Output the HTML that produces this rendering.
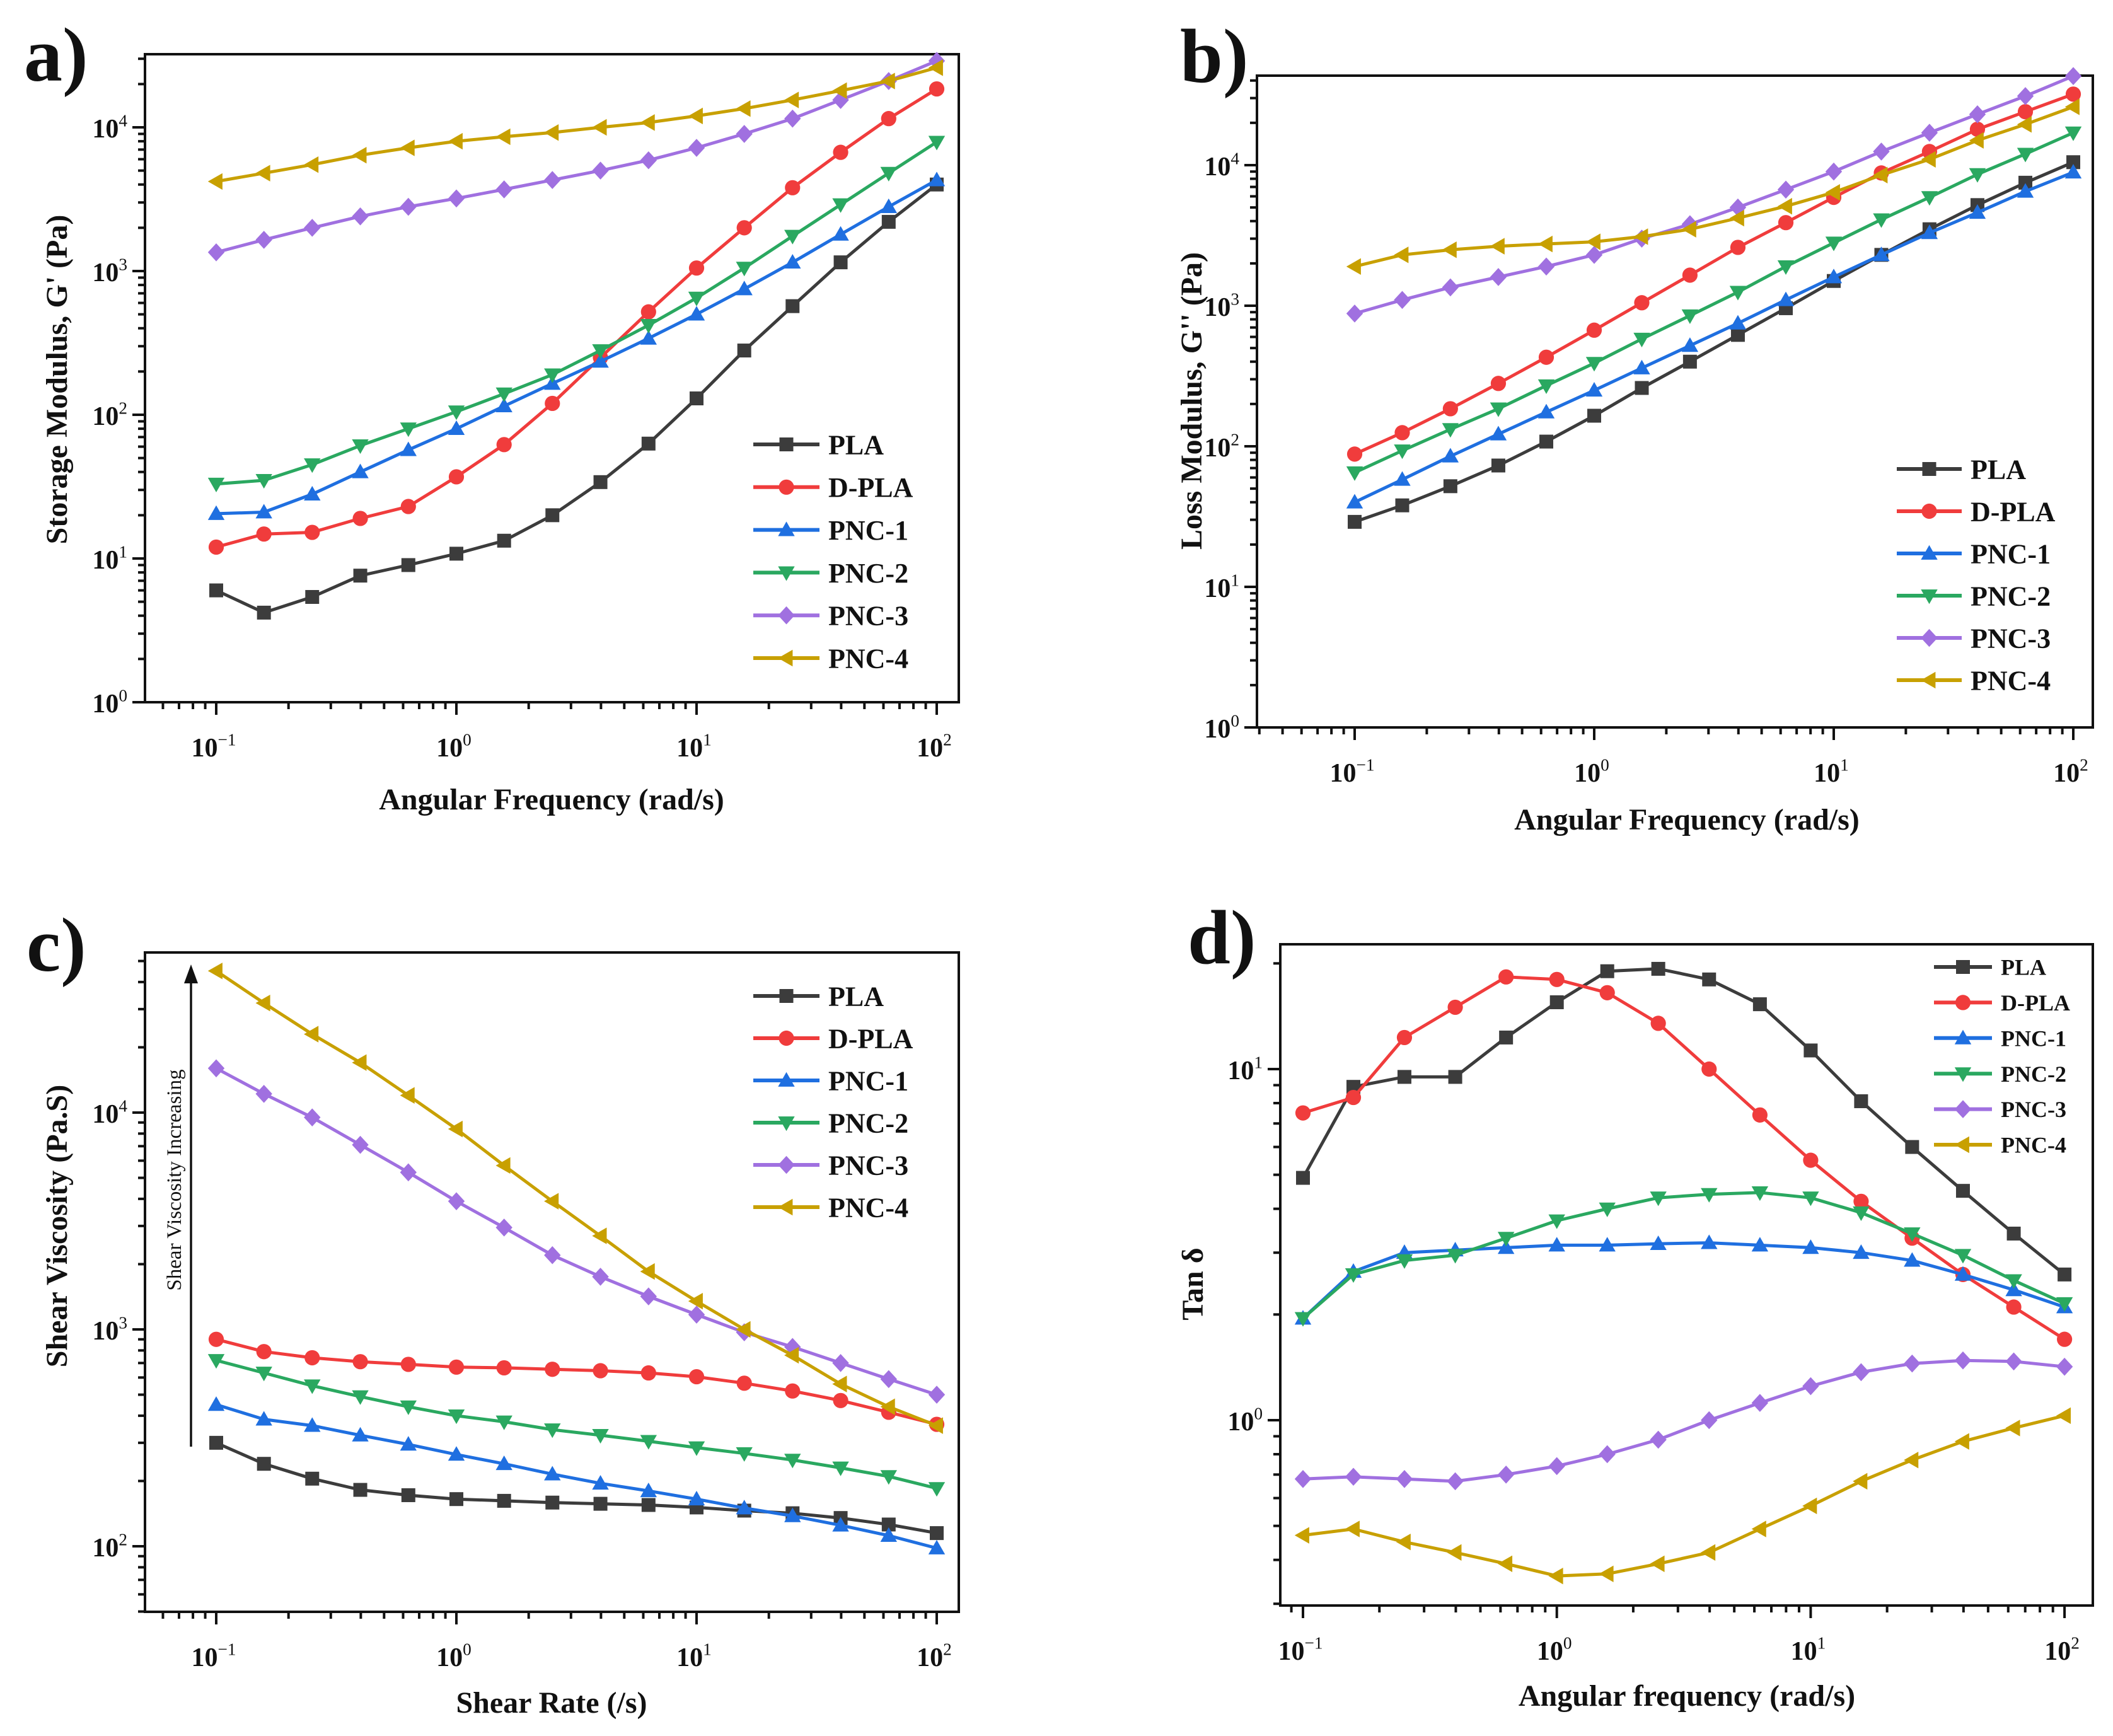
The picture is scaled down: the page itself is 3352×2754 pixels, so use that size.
<!DOCTYPE html>
<html><head><meta charset="utf-8"><style>
html,body{margin:0;padding:0;background:#fff}
svg{display:block}
text{font-family:"Liberation Serif",serif;font-weight:bold;fill:#111}
</style></head><body>
<svg id="fig" width="3352" height="2754" viewBox="0 0 3352 2754" xmlns="http://www.w3.org/2000/svg"></svg>
<script>
const freq = [0.1,0.158,0.251,0.398,0.631,1,1.58,2.51,3.98,6.31,10,15.8,25.1,39.8,63.1,100];
const seriesNames = ["PLA","D-PLA","PNC-1","PNC-2","PNC-3","PNC-4"];
const seriesColors = ["#3c3c3c","#f03c3c","#1f6fe0","#2aa860","#a070e0","#c8a000"];
const seriesMarkers = ["square","circle","up","down","diamond","left"];

const aPLA  = [6,4.2,5.4,7.6,9,10.8,13.3,20,34,63,130,280,570,1150,2200,4000];
const aDPLA = [12,14.8,15.2,19,23,37,62,120,250,520,1050,2000,3800,6700,11500,18500];
const aPNC1 = [20.5,21,28,40,57,80,115,165,235,340,500,750,1150,1800,2800,4300];
const aPNC2 = [33,35,45,61,80,105,140,190,280,420,650,1050,1750,2900,4800,7900];
const aPNC3 = [1350,1650,2000,2400,2800,3200,3700,4300,5000,5900,7200,9000,11500,15500,21000,29000];
const aPNC4 = [4200,4800,5500,6400,7200,8000,8600,9200,10000,10800,12000,13500,15500,18000,21000,26000];

const bPLA  = [29,38,52,73,108,165,260,400,620,960,1500,2300,3500,5200,7500,10500];
const bDPLA = [88,125,185,280,430,670,1050,1650,2600,3900,5900,8800,12500,18000,24000,32000];
const bPNC1 = [40,58,85,122,175,250,360,520,750,1100,1600,2300,3300,4600,6500,8900];
const bPNC2 = [65,93,132,185,270,390,580,850,1250,1900,2800,4100,5900,8600,12000,17000];
const bPNC3 = [880,1100,1350,1600,1900,2300,3000,3800,5000,6700,9000,12500,17000,23000,31000,43000];
const bPNC4 = [1900,2300,2500,2650,2750,2850,3100,3500,4200,5100,6400,8500,11000,15000,19500,26000];

const cPLA  = [300,240,205,182,172,165,162,159,157,155,151,146,142,135,126,115];
const cDPLA = [900,790,740,710,690,670,665,655,645,630,605,565,520,470,415,365];
const cPNC1 = [450,385,360,325,295,265,240,215,195,180,165,150,138,125,112,98];
const cPNC2 = [720,630,550,490,440,400,375,345,325,305,285,268,250,230,210,185];
const cPNC3 = [16000,12200,9500,7100,5300,3900,2950,2200,1750,1420,1170,970,830,700,590,500];
const cPNC4 = [45000,32000,23000,17000,12000,8400,5700,3900,2700,1850,1350,1000,760,560,440,360];

const dPLA  = [4.9,8.9,9.5,9.5,12.3,15.5,19,19.3,18,15.3,11.3,8.1,6.0,4.5,3.4,2.6];
const dDPLA = [7.5,8.3,12.3,15,18.3,18,16.5,13.5,10,7.4,5.5,4.2,3.3,2.6,2.1,1.7];
const dPNC1 = [1.95,2.65,3.0,3.05,3.1,3.15,3.15,3.18,3.2,3.15,3.1,3.0,2.85,2.6,2.35,2.1];
const dPNC2 = [1.95,2.6,2.85,2.95,3.3,3.7,4.0,4.3,4.4,4.45,4.3,3.9,3.4,2.95,2.5,2.15];
const dPNC3 = [0.68,0.69,0.68,0.67,0.7,0.74,0.8,0.88,1.0,1.12,1.25,1.37,1.45,1.48,1.47,1.42];
const dPNC4 = [0.47,0.49,0.45,0.42,0.39,0.36,0.365,0.39,0.42,0.49,0.57,0.67,0.77,0.87,0.95,1.03];

const xTickExps = [-1,0,1,2];
const aYTickExps = [0,1,2,3,4];
const bYTickExps = [0,1,2,3,4];
const cYTickExps = [2,3,4];
const dYTickExps = [0,1];

const NS = "http://www.w3.org/2000/svg";
const svg = document.getElementById("fig");
function mk(tag, attrs, parent){
  const e = document.createElementNS(NS, tag);
  for (const k in attrs) e.setAttribute(k, attrs[k]);
  (parent||svg).appendChild(e);
  return e;
}
function powLabel(g, x, y, exp, size, anchor){
  const t = mk("text",{x:x,y:y,"font-size":size,"text-anchor":anchor},g);
  
  
  const s1 = mk("tspan",{},t); s1.textContent = "10";
  const s2 = mk("tspan",{dy:-size*0.42,"font-size":size*0.65,"font-weight":"normal"},t);
  s2.textContent = exp < 0 ? "\u2212" + (-exp) : String(exp);
}
function marker(g, type, x, y, r, color){
  let e;
  if (type==="square") e = mk("rect",{x:x-r,y:y-r,width:2*r,height:2*r,fill:color},g);
  else if (type==="circle") e = mk("circle",{cx:x,cy:y,r:r*1.1,fill:color},g);
  else if (type==="up") e = mk("polygon",{points:`${x},${y-r*1.2} ${x-r*1.2},${y+r*0.9} ${x+r*1.2},${y+r*0.9}`,fill:color},g);
  else if (type==="down") e = mk("polygon",{points:`${x},${y+r*1.2} ${x-r*1.2},${y-r*0.9} ${x+r*1.2},${y-r*0.9}`,fill:color},g);
  else if (type==="diamond") e = mk("polygon",{points:`${x},${y-r*1.3} ${x+r*1.2},${y} ${x},${y+r*1.3} ${x-r*1.2},${y}`,fill:color},g);
  else e = mk("polygon",{points:`${x-r*1.2},${y} ${x+r*0.9},${y-r*1.2} ${x+r*0.9},${y+r*1.2}`,fill:color},g);
  
  
}

function panel(cfg){
  const g = mk("g",{});
  
  
  const L=cfg.left,R=cfg.right,T=cfg.top,B=cfg.bottom;
  const xs = v => cfg.x0px + (Math.log10(v)+1)*cfg.xDec;
  const ys = v => cfg.y0px - (Math.log10(v)-cfg.y0exp)*cfg.yDec;
  const fr = mk("rect",{x:L,y:T,width:R-L,height:B-T,fill:"none",stroke:"#111","stroke-width":4},g);
  
  
  for (let e=-2; e<=2; e++){
    for (let m=1; m<=9; m++){
      const v = m*Math.pow(10,e); const px = xs(v);
      if (px < L-1 || px > R+1) continue;
      const len = m===1 ? 20 : 11;
      const tk = mk("line",{x1:px,y1:B,x2:px,y2:B+len,stroke:"#111","stroke-width":4},g);
      
      
    }
  }
  xTickExps.forEach(e => powLabel(g, xs(Math.pow(10,e))-4, B+86, e, 42, "middle"));
  for (let e=-1; e<=5; e++){
    for (let m=1; m<=9; m++){
      const v = m*Math.pow(10,e); const py = ys(v);
      if (py < T-1 || py > B+1) continue;
      const len = m===1 ? 20 : 11;
      const tk = mk("line",{x1:L,y1:py,x2:L-len,y2:py,stroke:"#111","stroke-width":4},g);
      
      
    }
  }
  cfg.yTicks.forEach(e => powLabel(g, L-28, ys(Math.pow(10,e))+16, e, 42, "end"));
  cfg.data.forEach((arr,i) => {
    const sg = mk("g",{},g);
    
    
    const pts = arr.map((v,j) => xs(freq[j]).toFixed(1)+","+ys(v).toFixed(1)).join(" ");
    const pl = mk("polyline",{points:pts,fill:"none",stroke:seriesColors[i],"stroke-width":5,"stroke-linejoin":"round"},sg);
    
    
    arr.forEach((v,j) => marker(sg, seriesMarkers[i], xs(freq[j]), ys(v), 11, seriesColors[i]));
  });
  const lg = mk("g",{},g);
  
  
  seriesNames.forEach((n,i) => {
    const y = cfg.legY + i*cfg.legDy;
    const eg = mk("g",{},lg);
    
    
    mk("line",{x1:cfg.legX1,y1:y,x2:cfg.legX2,y2:y,stroke:seriesColors[i],"stroke-width":6},eg);
    marker(eg, seriesMarkers[i], (cfg.legX1+cfg.legX2)/2, y, 11, seriesColors[i]);
    const t = mk("text",{x:cfg.legX2+14,y:y+cfg.legFont*0.35,"font-size":cfg.legFont},eg);
    t.textContent = n;
  });
  const xt = mk("text",{x:cfg.xtX,y:cfg.xtY,"font-size":48,"text-anchor":"middle"},g);
  
  
  xt.textContent = cfg.xTitle;
  const yt = mk("text",{x:0,y:0,"font-size":48,"text-anchor":"middle",transform:`translate(${cfg.ytX},${cfg.ytY}) rotate(-90)`},g);
  
  
  yt.textContent = cfg.yTitle;
  const pl = mk("text",{x:cfg.lblX,y:cfg.lblY,"font-size":122},g);
  
  
  pl.textContent = cfg.letter;
  return {g, xs, ys};
}

panel({name:"panel-a-storage-modulus",left:230,right:1521,top:86,bottom:1114,x0px:343,xDec:381,y0px:1114,y0exp:0,yDec:228,
  yTicks:aYTickExps,data:[aPLA,aDPLA,aPNC1,aPNC2,aPNC3,aPNC4],
  legX1:1195,legX2:1300,legY:705,legDy:67.8,legFont:44,
  xTitle:"Angular Frequency (rad/s)",xtX:875,xtY:1284,yTitle:"Storage Modulus, G' (Pa)",ytX:106,ytY:602,
  letter:"a)",lblX:38,lblY:128});
panel({name:"panel-b-loss-modulus",left:1994,right:3320,top:120,bottom:1154,x0px:2149,xDec:380,y0px:1154,y0exp:0,yDec:223,
  yTicks:bYTickExps,data:[bPLA,bDPLA,bPNC1,bPNC2,bPNC3,bPNC4],
  legX1:3009,legX2:3112,legY:744,legDy:67,legFont:44,
  xTitle:"Angular Frequency (rad/s)",xtX:2676,xtY:1316,yTitle:"Loss Modulus, G'' (Pa)",ytX:1906,ytY:636,
  letter:"b)",lblX:1872,lblY:130});
panel({name:"panel-c-shear-viscosity",left:230,right:1521,top:1511,bottom:2557,x0px:343,xDec:381,y0px:2453,y0exp:2,yDec:344,
  yTicks:cYTickExps,data:[cPLA,cDPLA,cPNC1,cPNC2,cPNC3,cPNC4],
  legX1:1195,legX2:1300,legY:1580,legDy:67,legFont:44,
  xTitle:"Shear Rate (/s)",xtX:875,xtY:2717,yTitle:"Shear Viscosity (Pa.S)",ytX:106,ytY:1945,
  letter:"c)",lblX:42,lblY:1540});
panel({name:"panel-d-tan-delta",left:2031,right:3320,top:1498,bottom:2547,x0px:2067,xDec:402.7,y0px:2253,y0exp:0,yDec:557,
  yTicks:dYTickExps,data:[dPLA,dDPLA,dPNC1,dPNC2,dPNC3,dPNC4],
  legX1:3068,legX2:3160,legY:1534,legDy:56.4,legFont:36,
  xTitle:"Angular frequency (rad/s)",xtX:2676,xtY:2706,yTitle:"Tan \u03b4",ytX:1908,ytY:2037,
  letter:"d)",lblX:1884,lblY:1528});

const ag = mk("g",{});


mk("line",{x1:303,y1:2295,x2:303,y2:1552,stroke:"#111","stroke-width":3.5},ag);
mk("polygon",{points:"303,1530 292,1560 314,1560",fill:"#111"},ag);
const at = mk("text",{x:0,y:0,"font-size":33,"text-anchor":"middle",transform:"translate(287,1872) rotate(-90)",style:"font-weight:normal"},ag);


at.textContent = "Shear Viscosity Increasing";
</script>
</body></html>
